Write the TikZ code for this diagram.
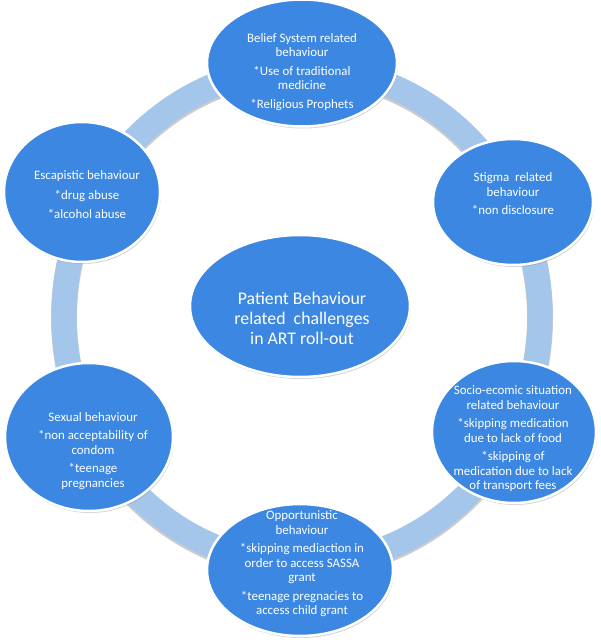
\documentclass[tikz,border=0pt]{standalone}
\usepackage{fontspec}
\setmainfont{Carlito}
\usetikzlibrary{shapes.geometric,shadows}
\definecolor{bubbleblue}{HTML}{3C87E2}
\definecolor{ringblue}{HTML}{A4C6EA}

\begin{document}
\begin{tikzpicture}[x=1pt, y=-1pt,
    bubble/.style={ellipse, draw=white, line width=2.5pt, fill=bubbleblue,
        drop shadow={shadow xshift=1pt, shadow yshift=-2pt, opacity=0.35}},
    bubbletext/.style={text=white, align=center, inner sep=0pt,
        font=\fontsize{12.9}{14.5}\selectfont},
    maintext/.style={text=white, align=center, inner sep=0pt,
        font=\fontsize{17.8}{20}\selectfont}]
    \useasboundingbox (0,0) rectangle (600,642);

    % Define the centre of the ring
    \coordinate (ringc) at (302,316);

    % Draw the ring behind the bubbles
    \draw[black!20, line width=26pt] ([yshift=-2pt]ringc) ellipse [x radius=238, y radius=248];
    \draw[ringblue, line width=25pt] (ringc) ellipse [x radius=238, y radius=248];

    % Draw the bubbles
    \node[bubble, minimum width=190pt, minimum height=127pt] (belief) at (302,63) {};
    \node[bubble, minimum width=160pt, minimum height=126pt] (stigma) at (513,202) {};
    \node[bubble, minimum width=164pt, minimum height=142pt] (socio) at (514,432) {};
    \node[bubble, minimum width=186pt, minimum height=132pt] (opp) at (300,570) {};
    \node[bubble, minimum width=168pt, minimum height=148pt] (sexual) at (89,437) {};
    \node[bubble, minimum width=156pt, minimum height=140pt] (escape) at (82,192) {};
    \node[bubble, minimum width=220pt, minimum height=142pt] (patient) at (300,306) {};

    % Place the texts in the bubbles
    \node[bubbletext] (belieftext) at (302,72) {Belief System related\\ behaviour\\[4pt]
        *Use of traditional\\ medicine\\[4pt] *Religious Prophets};
    \node[bubbletext] (stigmatext) at (513,194) {Stigma~ related\\ behaviour\\[4pt] *non disclosure};
    \node[bubbletext] (sociotext) at (513,439) {Socio-ecomic situation\\ related behaviour\\[4pt]
        *skipping medication\\ due to lack of food\\[4pt] *skipping of\\ medication due to lack\\ of transport fees};
    \node[bubbletext] (opptext) at (302,564) {Opportunistic\\ behaviour\\[4pt]
        *skipping mediaction in\\ order to access SASSA\\ grant\\[4pt] *teenage pregnacies to\\ access child grant};
    \node[bubbletext] (sexualtext) at (93,451) {Sexual behaviour\\[4pt] *non acceptability of\\ condom\\[4pt]
        *teenage\\ pregnancies};
    \node[bubbletext] (escapetext) at (87,195) {Escapistic behaviour\\[5pt] *drug abuse\\[5pt] *alcohol abuse};
    \node[maintext] (patienttext) at (302,318) {Patient Behaviour\\ related~ challenges\\ in ART roll-out};

\end{tikzpicture}
\end{document}
